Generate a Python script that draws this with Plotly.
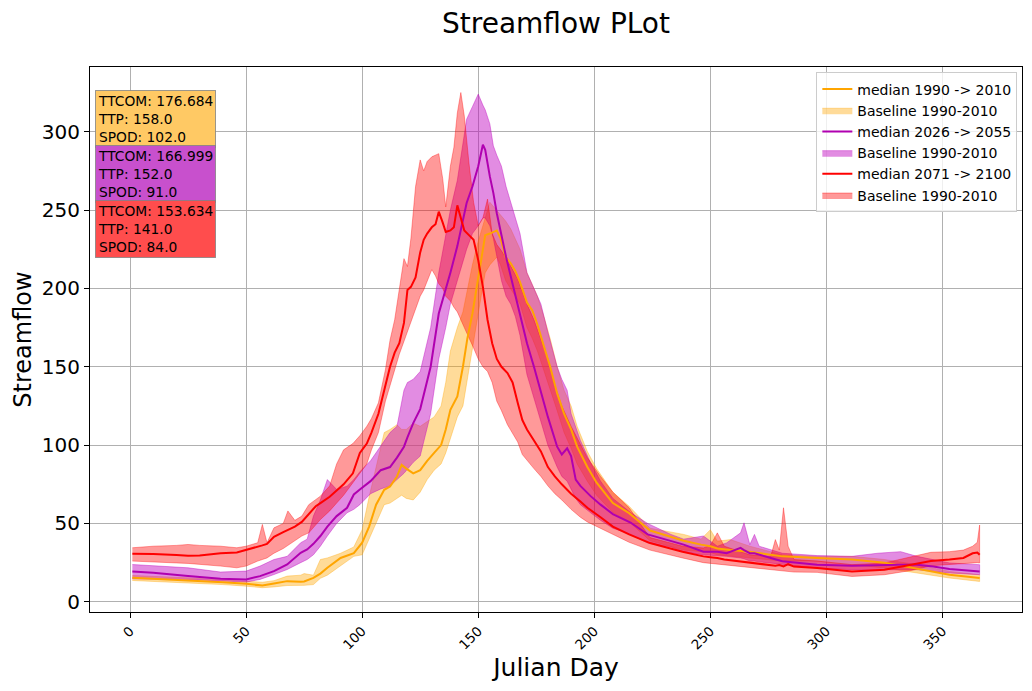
import plotly.graph_objects as go

# ---------------- data ----------------
# Series 1: median 1990 -> 2010 (orange)
days_a = [1, 10, 25, 40, 50, 57, 62, 67.7, 73.5, 75, 79, 82, 85, 90.7, 96.4, 100, 103, 106,
          109.5, 112, 115, 117, 119, 122, 125, 128, 131, 134, 136, 138, 141, 143.4, 145.3,
          147.5, 149.6, 151.8, 153, 155, 158, 159.6, 161.8, 164, 166, 168, 171, 173.3, 175.5,
          178.3, 181, 184, 187, 190, 192.6, 197, 201, 208, 215, 224, 238.5, 246, 250, 253,
          258.6, 267, 281, 296, 311, 325, 339, 353, 366]
med_a = [15.3, 14.7, 13.6, 12.5, 11.5, 10.4, 11.7, 13.2, 12.8, 13, 15.3, 18, 21.7, 28, 31, 37.7,
         48, 62, 71.5, 73.6, 80, 87.4, 85, 82, 84, 90, 95, 100, 110, 122.5, 131, 150, 168, 184,
         203, 224, 234, 235, 237, 232, 220, 216, 211, 204, 191, 186, 177, 163, 150, 133, 120,
         110, 99, 86, 76, 63, 56.6, 45.5, 39, 36.5, 35.5, 34, 33, 32, 29, 28, 27, 25, 21, 17.3,
         15.2]
low_a = [13.6, 13, 12, 11, 10, 9, 9.5, 10.4, 10.4, 10.5, 11, 15, 17, 22.8, 29, 30, 40, 50, 62,
         63, 66, 68, 66, 65, 70, 78, 84, 88, 95, 105, 118, 125, 140, 160, 180, 200, 210, 215,
         220, 215, 205, 200, 195, 190, 175, 168, 160, 148, 135, 122, 108, 98, 88, 77, 68, 57,
         51, 39, 33, 32, 31.5, 30, 29, 28, 26, 26, 23.7, 21.6, 18.4, 15.2, 13]
up_a = [16.8, 16.3, 15.3, 14, 13, 12.5, 13.5, 16.4, 17, 18, 17, 27, 28, 31, 35, 46, 67, 85, 108,
        110, 113, 110, 110, 114, 112, 115, 118, 125, 140, 160, 175, 185, 200, 215, 228, 240,
        245, 255, 250, 247, 243, 238, 232, 225, 210, 202, 195, 182, 168, 150, 135, 125, 112,
        96, 85, 70, 61, 47, 43, 40, 46, 38.7, 39.7, 35.5, 30, 29, 29, 27, 23.7, 19.4, 17.3]

# Series 2: median 2026 -> 2055 (magenta)
days_b = [1, 10, 25, 39, 50, 56, 62, 67.7, 73.5, 76.3, 79, 82, 85, 89, 93.5, 96.4, 99, 103.6,
          108, 112, 115, 118, 119.5, 122, 125, 129.5, 133, 136, 138, 141, 143, 145, 147.5, 150,
          152, 153, 155, 156.5, 158, 160, 162, 164, 166, 168, 171, 174, 177, 180, 184, 186,
          188.3, 190, 192, 194, 198.3, 202.7, 208, 215.6, 223, 233, 238.5, 247, 253, 257, 263,
          264.5, 267, 269, 271, 276, 281, 296, 311, 322, 332, 339, 346, 353, 366]
med_b = [19.4, 18.5, 16.4, 14.7, 14.3, 16.4, 19.6, 23.8, 31.3, 33.4, 37, 42, 48, 54.7, 60, 68.5,
         71.7, 77, 84, 86, 92, 99, 105, 114, 123, 150, 184, 199, 210, 227, 240, 254.5, 265, 278,
         291.7, 288.5, 271.5, 261, 248, 233, 220, 207.7, 195, 182, 165, 150, 134, 118, 99, 94,
         98, 93, 78, 74, 67.6, 62, 56, 50.6, 43, 38.7, 36.5, 32, 32, 31, 34.4, 33, 31, 31, 30,
         28, 25.9, 23.7, 23, 23.5, 23.7, 23.7, 22.6, 21, 19.4]
low_b = [14.7, 14.5, 14.3, 13.2, 12.6, 14.3, 17.4, 20.6, 25, 27, 30, 35.5, 42, 50, 56.8, 59, 62,
         69, 72, 74, 78, 82, 85, 89, 93, 120, 155, 175, 190, 205, 215, 225, 235, 240, 245, 245,
         240, 232, 220, 205, 195, 190, 182, 170, 145, 130, 115, 100, 86, 80, 77, 72, 66, 62, 57,
         52, 47, 43, 37.6, 35, 32, 30, 29.5, 29, 28, 27.5, 26, 26, 25.5, 24.5, 23.7, 21.6, 20.5,
         20.5, 20.5, 20.5, 19.5, 18.4, 17.3]
up_b = [23.8, 23, 21.7, 19, 19.6, 22.8, 27, 29, 37.7, 40, 54.7, 65, 78, 71.7, 73.8, 78, 83, 90,
        99, 108, 112, 135, 140, 142, 147, 175, 210, 233, 250, 269, 290, 308, 316, 324, 317, 314,
        305, 291, 285, 278, 265, 255, 245, 235, 210, 200, 190, 172, 150, 142, 135, 120, 112,
        103, 89, 77, 66, 57, 50, 43, 40, 42, 35.5, 37.6, 44, 50.4, 36.5, 43, 35.5, 33, 31, 29.5,
        29, 31, 32, 29, 27, 24.8, 23.7]

# Series 3: median 2071 -> 2100 (red)
days_c = [1, 10, 20, 25, 30, 39, 46, 50, 55, 57, 59, 62, 66, 68, 71, 74, 77, 80, 82, 86, 89, 92,
          96, 99, 102, 104, 107, 110, 112, 114, 116, 118, 119.5, 121, 123, 125, 126.5, 128, 130,
          131.6, 133, 134.7, 136, 138, 139.5, 141, 142.5, 144, 146, 148, 150, 152, 154, 156,
          158, 160, 162.6, 164.8, 167, 169, 171, 174, 177, 180, 183, 186, 190, 194, 197, 202.7,
          208, 215, 224, 238, 247, 250, 253, 256, 267, 276, 278, 279.7, 281.5, 283.5, 286, 296,
          311, 325, 336.5, 345, 353, 359, 363, 365, 366]
med_c = [30.6, 30.5, 29.8, 29.4, 29.5, 31, 31.5, 33, 35, 36, 37, 41.5, 44.5, 46, 48, 51, 56, 61,
         63, 67, 71, 75, 82, 95, 101, 108, 120, 137, 150, 159, 165, 178, 199, 201, 207, 223, 231,
         235, 239, 241, 249, 242, 236, 237, 239, 253, 245, 237, 234, 231, 218, 201, 180, 165,
         155, 150, 146, 140, 127, 116, 110, 103, 96, 86, 80, 75, 69, 64, 60, 54, 48, 43, 37.5,
         32, 29, 28.5, 28, 27, 25, 23.5, 23, 23.5, 22.6, 24, 22.5, 21.6, 19.4, 20.5, 23.7, 26,
         27, 28, 31, 31.5, 30]
low_c = [26, 25.3, 24.8, 24.5, 24, 22.8, 21.7, 22.8, 26, 27, 28, 31, 34, 35.5, 39, 42, 44, 49,
         52.5, 58, 63, 68, 76, 82, 88, 97, 108, 128, 138, 148, 158, 166, 172, 178, 187, 195, 199,
         205, 212, 208, 203, 200, 195, 192, 188, 185, 180, 175, 168, 162, 155, 150, 147, 140, 128,
         122, 113, 108, 102, 94, 90, 85, 80, 74, 69, 65, 59, 54, 51, 47, 43, 38, 33, 28, 25,
         24.5, 24, 23.5, 21.6, 20.5, 20, 20, 19.4, 19.4, 19, 18.8, 16.2, 17.3, 20, 23, 24, 24.8,
         24.8, 25, 24.8]
up_c = [34.5, 35.5, 36, 36.6, 36, 35.5, 34.5, 35.5, 37.7, 49.4, 37.7, 47.2, 50, 58, 52, 54.7,
        62, 65, 67.4, 74, 88, 97, 101, 106, 112, 117, 127, 148, 167, 180, 200, 219, 214, 232,
        265, 282, 275, 281, 284, 285, 286, 270, 252, 278, 290, 312, 325, 310, 280, 255, 240, 245,
        257, 235, 228, 224, 218, 212, 206, 198, 190, 180, 168, 155, 138, 125, 112, 100, 92, 80,
        70, 60, 41, 35.5, 34.4, 36, 44, 35.5, 30, 29, 39.7, 33, 60, 35.5, 27, 26, 23.7, 24.8,
        28.5, 31.6, 32, 33, 35.5, 38, 49]

names_med = ["median 1990 -> 2010", "median 2026 -> 2055", "median 2071 -> 2100"]
name_band = "Baseline 1990-2010"
box_texts = [["TTCOM: 176.684", "TTP: 158.0", "SPOD: 102.0"],
             ["TTCOM: 166.999", "TTP: 152.0", "SPOD: 91.0"],
             ["TTCOM: 153.634", "TTP: 141.0", "SPOD: 84.0"]]
x_ticks = [0, 50, 100, 150, 200, 250, 300, 350]
y_ticks = [0, 50, 100, 150, 200, 250, 300]

# ---------------- styling ----------------
line_cols = ["#FFA500", "#B000B0", "#FF0000"]
band_cols = ["rgba(255,165,0,0.4)", "rgba(191,0,191,0.45)", "rgba(255,0,0,0.4)"]
edge_cols = ["rgba(255,165,0,0.45)", "rgba(191,0,191,0.5)", "rgba(255,0,0,0.45)"]
box_cols = ["rgba(255,201,100,1)", "rgba(200,80,205,1)", "rgba(255,77,77,1)"]

series = [(days_a, med_a, low_a, up_a), (days_b, med_b, low_b, up_b), (days_c, med_c, low_c, up_c)]

fig = go.Figure()
FONT = "DejaVu Sans"

# bands first (drawn below the lines)
for i, (d, m, lo, up) in enumerate(series):
    fig.add_trace(go.Scatter(
        x=list(d) + list(d)[::-1], y=list(up) + list(lo)[::-1],
        fill="toself", fillcolor=band_cols[i], mode="lines",
        line=dict(color=edge_cols[i], width=0.8),
        name=name_band, legendrank=2 * i + 2, hoverinfo="skip"))
for i, (d, m, lo, up) in enumerate(series):
    fig.add_trace(go.Scatter(
        x=d, y=m, mode="lines", line=dict(color=line_cols[i], width=2),
        name=names_med[i], legendrank=2 * i + 1))

# statistic boxes
tops_px = [90, 145, 200]
plot_top, plot_bot = 67, 612
for i, t in enumerate(box_texts):
    fig.add_annotation(
        xref="paper", yref="paper", x=0.0055, y=(plot_bot - tops_px[i]) / (plot_bot - plot_top),
        xanchor="left", yanchor="top", align="left", showarrow=False,
        text="<br>".join(t), font=dict(family=FONT, size=13.8, color="black"),
        bgcolor=box_cols[i], bordercolor="rgba(130,130,130,0.8)", borderwidth=1, borderpad=2)

axis_common = dict(showline=True, linecolor="black", linewidth=1, mirror=True,
                   showgrid=True, gridcolor="#B0B0B0", gridwidth=1, zeroline=False,
                   ticks="outside", ticklen=5, tickcolor="black")

fig.update_layout(
    width=1032, height=691,
    margin=dict(l=90, r=10, t=67, b=79),
    paper_bgcolor="white", plot_bgcolor="white",
    font=dict(family=FONT, color="black"),
    title=dict(text="Streamflow PLot", x=0.5, xref="paper", xanchor="center",
               y=0.967, yanchor="middle", font=dict(family=FONT, size=28)),
    xaxis=dict(range=[-17.25, 384.25], tickvals=x_ticks, tickangle=-45,
               tickfont=dict(size=13.5), title=dict(text="Julian Day", font=dict(size=25), standoff=6),
               **axis_common),
    yaxis=dict(range=[-6.5, 341.3], tickvals=y_ticks, tickfont=dict(size=20),
               title=dict(text="Streamflow", font=dict(size=24), standoff=3),
               **axis_common),
    legend=dict(x=0.995, y=0.99, xanchor="right", yanchor="top",
                bgcolor="rgba(255,255,255,0.8)", bordercolor="#CCCCCC", borderwidth=1,
                font=dict(family=FONT, size=14), tracegroupgap=0, itemwidth=30),
    showlegend=True,
)

fig.write_html("out.html")
